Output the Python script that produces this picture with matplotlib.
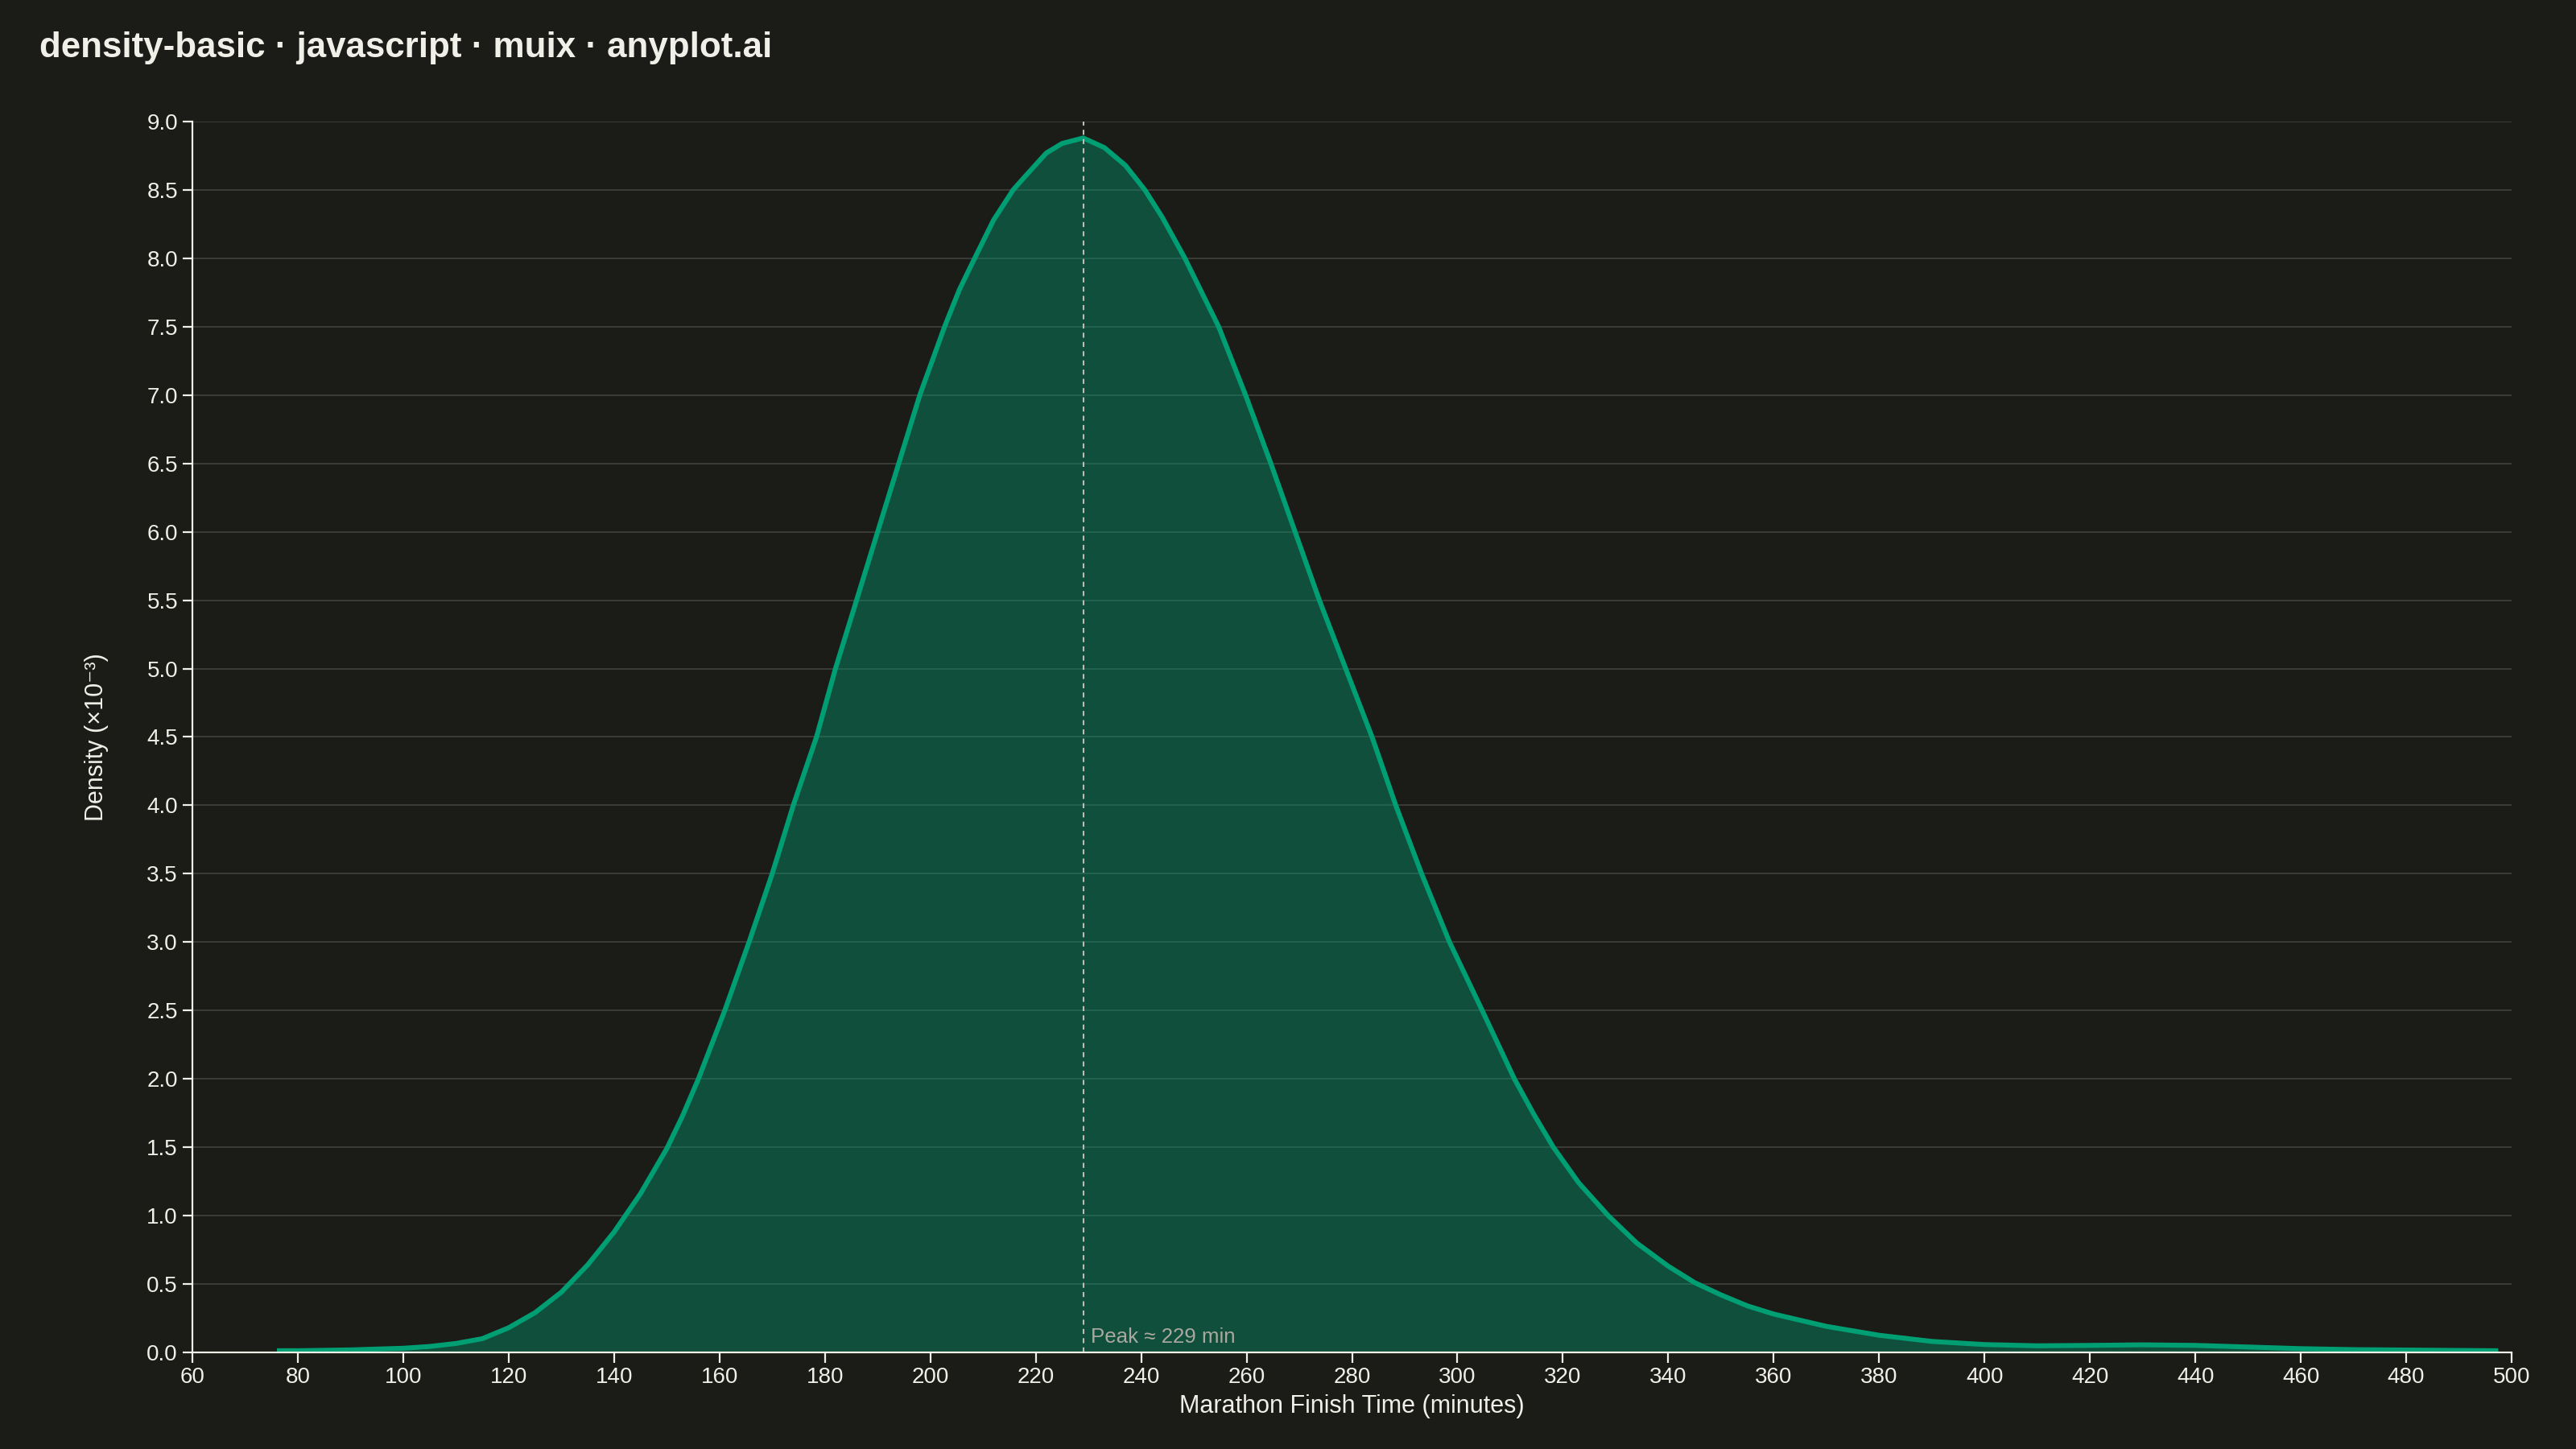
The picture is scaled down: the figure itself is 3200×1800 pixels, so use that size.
import matplotlib
matplotlib.use('Agg')
import matplotlib.pyplot as plt
import numpy as np

# finish times (minutes) and density (x1e-3)
finish_time = [76.5, 80, 90, 100, 105, 110, 115, 120, 125, 130, 135, 140, 145, 150,
               153, 156, 161, 165.6, 170, 174, 178.4, 182, 186, 190, 194, 198,
               202.7, 205.5, 208.4, 212, 215.7, 218, 222, 225, 229, 233, 237, 240.7,
               244, 248.3, 254.7, 259.8, 264.6, 269.2, 273.8, 278.8, 283.8, 288.3,
               293.2, 298.5, 304.7, 310.8, 314.5, 318.2, 323, 328.6, 334, 340, 345,
               350, 355, 360, 370, 380, 390, 400, 410, 420, 430, 440, 450, 460, 470,
               480, 490, 497]
density = [0.012, 0.012, 0.018, 0.03, 0.043, 0.065, 0.10, 0.18, 0.29, 0.44, 0.64, 0.88,
           1.16, 1.49, 1.73, 2.0, 2.5, 3.0, 3.5, 4.0, 4.5, 5.0, 5.5, 6.0, 6.5, 7.0,
           7.5, 7.77, 8.0, 8.28, 8.5, 8.6, 8.77, 8.84, 8.88, 8.81, 8.68, 8.5,
           8.3, 8.0, 7.5, 7.0, 6.5, 6.0, 5.5, 5.0, 4.5, 4.0,
           3.5, 3.0, 2.5, 2.0, 1.74, 1.5, 1.24, 1.0, 0.8, 0.63, 0.51,
           0.42, 0.34, 0.28, 0.19, 0.125, 0.08, 0.057, 0.048, 0.051, 0.055, 0.051,
           0.039, 0.027, 0.02, 0.017, 0.014, 0.012]
peak_time = 229
x_ticks = list(range(60, 501, 20))
y_ticks = [i * 0.5 for i in range(19)]

BG = '#1b1b17'
FG = '#f0efe8'
GRID = '#3b3b37'
GREEN = '#009e73'

plt.rcParams['font.family'] = ['Liberation Sans', 'DejaVu Sans']

fig = plt.figure(figsize=(16, 9), dpi=200, facecolor=BG)
ax = fig.add_axes([0.0747, 0.0667, 0.9003, 0.8494])
ax.set_facecolor(BG)

x = np.array(finish_time)
y = np.array(density)
ax.fill_between(x, 0, y, color=GREEN, alpha=0.4, linewidth=0, zorder=2)
ax.plot(x, y, color=GREEN, linewidth=2.2, zorder=3, solid_joinstyle='round')

ax.axvline(peak_time, color='#bdbdb5', linewidth=0.75, linestyle=(0, (3, 2.5)), zorder=4)
ax.annotate(f'Peak \u2248 {peak_time} min', xy=(peak_time, 0), xytext=(3.5, 2.5),
            textcoords='offset points', color='#a9a9a1', fontsize=9.3,
            ha='left', va='bottom', zorder=5)

ax.set_xlim(60, 500)
ax.set_ylim(0, 9.0)
ax.set_xticks(x_ticks)
ax.set_yticks(y_ticks)
ax.set_yticklabels([f'{v:.1f}' for v in y_ticks])
ax.grid(axis='y', color=GRID, linewidth=0.7, zorder=1)
ax.set_axisbelow(True)

for side in ['top', 'right']:
    ax.spines[side].set_visible(False)
for side in ['left', 'bottom']:
    ax.spines[side].set_color(FG)
    ax.spines[side].set_linewidth(0.8)
    ax.spines[side].set_zorder(6)
ax.tick_params(colors=FG, labelsize=10, length=4.5, width=0.8, pad=2)

ax.set_xlabel('Marathon Finish Time (minutes)', color=FG, fontsize=11, labelpad=3)
ax.set_ylabel('Density (\u00d710\u207b\u00b3)', color=FG, fontsize=11, labelpad=17)

fig.text(0.0153, 0.967, 'density-basic \u00b7 javascript \u00b7 muix \u00b7 anyplot.ai',
         color=FG, fontsize=15.8, fontweight='bold', ha='left', va='center')

fig.savefig('out.png', dpi=200, facecolor=BG)
